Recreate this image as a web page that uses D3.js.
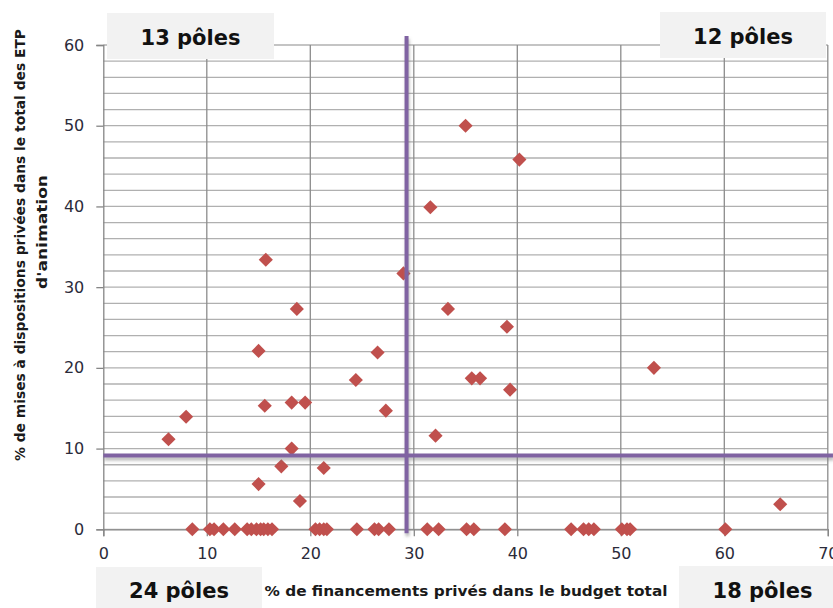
<!DOCTYPE html>
<html>
<head>
<meta charset="utf-8">
<script src="https://cdn.jsdelivr.net/npm/d3@7"></script>
<style>
  html, body { margin: 0; padding: 0; background: #fff; }
  svg { display: block; }
</style>
</head>
<body>
<svg id="chart" width="833" height="608"></svg>
<script>
// ---- Data ----
const financementPrive = [
  // top-left
  15.7, 29.0, 18.7, 15.0, 26.5, 24.4, 15.6, 18.2, 19.5, 27.3, 8.0, 6.3, 18.2,
  // bottom-left, non-zero
  17.2, 21.3, 15.0, 19.0,
  // bottom-left, zero
  8.6, 10.3, 10.7, 11.6, 12.7, 13.9, 14.3, 14.8, 15.2, 15.5, 15.9, 16.3, 20.5, 20.9, 21.3, 21.6, 24.5, 26.2, 26.6, 27.6,
  // top-right
  35.0, 40.2, 31.6, 33.3, 39.0, 35.6, 36.4, 39.3, 53.2, 32.1,
  // bottom-right
  65.4, 31.3, 32.4, 35.1, 35.8, 38.8, 45.2, 46.4, 46.9, 47.4, 50.1, 50.6, 50.9, 60.1
];
const miseADisposition = [
  33.4, 31.7, 27.3, 22.1, 21.9, 18.5, 15.3, 15.7, 15.7, 14.7, 13.95, 11.15, 10.0,
  7.8, 7.6, 5.6, 3.5,
  0, 0, 0, 0, 0, 0, 0, 0, 0, 0, 0, 0, 0, 0, 0, 0, 0, 0, 0, 0,
  50.0, 45.8, 39.9, 27.3, 25.1, 18.7, 18.7, 17.3, 20.0, 11.6,
  3.1, 0, 0, 0, 0, 0, 0, 0, 0, 0, 0, 0, 0, 0
];
const xTicks = [0, 10, 20, 30, 40, 50, 60, 70];
const yTicks = [0, 10, 20, 30, 40, 50, 60];
const yMinorTicks = d3.range(0, 61, 2);
const seuilFinancement = 29.3;   // vertical reference line
const seuilMiseADispo = 9.15;    // horizontal reference line
const quadrantLabels = ["13 pôles", "12 pôles", "24 pôles", "18 pôles"];
const xTitle = "% de financements privés dans le budget total";
const yTitleLines = ["% de mises à dispositions privées dans le total des ETP", "d'animation"];

// ---- Layout ----
const svg = d3.select("#chart");
const pLeft = 103.3, pRight = 827.8, pTop = 45, pBottom = 529.3;
const x = d3.scaleLinear().domain([0, 70]).range([pLeft, pRight]);
const y = d3.scaleLinear().domain([0, 60]).range([pBottom, pTop]);

const defs = svg.append("defs");
const f = defs.append("filter").attr("id", "shadow")
  .attr("filterUnits", "userSpaceOnUse")
  .attr("x", 0).attr("y", 0).attr("width", 833).attr("height", 608);
f.append("feDropShadow").attr("dx", 1).attr("dy", 3).attr("stdDeviation", 1.8)
  .attr("flood-color", "#777").attr("flood-opacity", 0.5);

// Horizontal gridlines (every 2)
svg.append("g").selectAll("line").data(yMinorTicks).join("line")
  .attr("x1", pLeft).attr("x2", pRight)
  .attr("y1", d => y(d)).attr("y2", d => y(d))
  .attr("stroke", "#b0b0b0").attr("stroke-width", 1.3);

// Vertical gridlines
svg.append("g").selectAll("line").data(xTicks.filter(d => d > 0)).join("line")
  .attr("x1", d => x(d)).attr("x2", d => x(d))
  .attr("y1", pTop).attr("y2", pBottom)
  .attr("stroke", "#8c8c8c").attr("stroke-width", 1.3);

// Axes
const xAxis = d3.axisBottom(x).tickValues(xTicks).tickSize(7).tickPadding(11).tickFormat(d3.format("d"));
const yAxis = d3.axisLeft(y).tickValues(yTicks).tickSize(7).tickPadding(12).tickFormat(d3.format("d"));
const gx = svg.append("g").attr("transform", `translate(0,${pBottom})`).call(xAxis);
const gy = svg.append("g").attr("transform", `translate(${pLeft},0)`).call(yAxis);
[gx, gy].forEach(g => {
  g.select(".domain").attr("stroke", "#868686").attr("stroke-width", 1.3);
  g.selectAll(".tick line").attr("stroke", "#868686").attr("stroke-width", 1.3);
  g.selectAll(".tick text").attr("fill", "#2b2b3a")
    .style("font-family", "'DejaVu Sans', Verdana, sans-serif").style("font-size", "16px");
});

// Points
const pts = financementPrive.map((v, i) => ({ fx: v, fy: miseADisposition[i] }));
svg.append("g").selectAll("path").data(pts).join("path")
  .attr("d", d3.symbol().type(d3.symbolSquare).size(100))
  .attr("transform", d => `translate(${x(d.fx)},${y(d.fy)}) rotate(45)`)
  .attr("fill", "#c0504d");

// Reference lines (drawn above the points)
const refs = svg.append("g").attr("filter", "url(#shadow)");
refs.append("line")
  .attr("x1", x(0)).attr("x2", x(70.5))
  .attr("y1", y(seuilMiseADispo)).attr("y2", y(seuilMiseADispo))
  .attr("stroke", "#8064a2").attr("stroke-width", 4);
refs.append("line")
  .attr("x1", x(seuilFinancement)).attr("x2", x(seuilFinancement))
  .attr("y1", y(61.1)).attr("y2", y(-0.5))
  .attr("stroke", "#8064a2").attr("stroke-width", 4);

// Quadrant label boxes
const boxes = [
  { x0: 107, y0: 13, w: 167, h: 46, tx: 190.5, ty: 44.5 },
  { x0: 660, y0: 12, w: 166, h: 46, tx: 743, ty: 43.5 },
  { x0: 96, y0: 567, w: 166, h: 45, tx: 179, ty: 598 },
  { x0: 679, y0: 566, w: 160, h: 46, tx: 762.5, ty: 598 }
];
boxes.forEach((b, i) => {
  svg.append("rect").attr("x", b.x0).attr("y", b.y0).attr("width", b.w).attr("height", b.h)
    .attr("fill", "#f2f2f2");
  svg.append("text").attr("x", b.tx).attr("y", b.ty).attr("text-anchor", "middle")
    .style("font-family", "'DejaVu Sans', Verdana, sans-serif").style("font-weight", "bold")
    .style("font-size", "21px").attr("fill", "#111")
    .text(quadrantLabels[i]);
});

// Axis titles
svg.append("text").attr("x", 466).attr("y", 596).attr("text-anchor", "middle")
  .style("font-family", "'DejaVu Sans', Verdana, sans-serif").style("font-weight", "bold")
  .style("font-size", "14px").attr("fill", "#1a1a1a")
  .attr("textLength", 403).attr("lengthAdjust", "spacingAndGlyphs")
  .text(xTitle);

const yt = svg.append("g").attr("transform", "translate(25,245) rotate(-90)");
yt.append("text").attr("x", 0).attr("y", 0).attr("text-anchor", "middle")
  .style("font-family", "'DejaVu Sans', Verdana, sans-serif").style("font-weight", "bold")
  .style("font-size", "14px").attr("fill", "#1a1a1a")
  .attr("textLength", 432).attr("lengthAdjust", "spacingAndGlyphs")
  .text(yTitleLines[0]);
yt.append("text").attr("x", 13).attr("y", 21.5).attr("text-anchor", "middle")
  .style("font-family", "'DejaVu Sans', Verdana, sans-serif").style("font-weight", "bold")
  .style("font-size", "14px").attr("fill", "#1a1a1a")
  .attr("textLength", 114).attr("lengthAdjust", "spacingAndGlyphs")
  .text(yTitleLines[1]);
</script>
</body>
</html>
